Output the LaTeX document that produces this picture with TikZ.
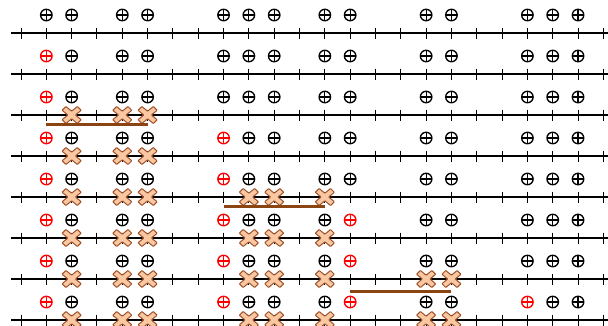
\documentclass[tikz,border=0pt]{standalone}
\usepackage{xcolor}
\usepackage{tikz}
\usetikzlibrary{calc}

\definecolor{crossfill}{HTML}{F9C8A2}
\definecolor{crossedge}{HTML}{9E5128}
\definecolor{barbrown}{HTML}{8B4513}

\begin{document}
\begin{tikzpicture}[x=1pt, y=-1pt,
    numline/.style={line width=1.6pt, black},
    tickmark/.style={line width=1pt, black},
    site/.style={
        circle, draw=#1, line width=1.35pt, minimum size=11.5pt, inner sep=0pt,
        path picture={\draw[#1, line width=1.2pt]
            (path picture bounding box.north) -- (path picture bounding box.south)
            (path picture bounding box.west) -- (path picture bounding box.east);}
    },
    site/.default=black,
    spanbar/.style={line width=3pt, barbrown},
    hit/.pic={
        \filldraw[fill=crossfill, draw=crossedge, line width=1pt, rounded corners=0.5pt]
            (0,3.8) -- (5.7,8.5) -- (9.5,4.7) -- (3.8,0) -- (9.5,-4.7) -- (5.7,-8.5)
            -- (0,-3.8) -- (-5.7,-8.5) -- (-9.5,-4.7) -- (-3.8,0) -- (-9.5,4.7)
            -- (-5.7,8.5) -- cycle;
    }
]
    \useasboundingbox (0,0) rectangle (608,325);
    \def\dx{25.32}

    \foreach \r in {1,...,8} {
        \pgfmathsetmacro\y{33+41*(\r-1)}
        % number line with ticks
        \draw[numline] (11,\y) -- (608,\y);
        \foreach \t in {0,...,23}
            \draw[tickmark] (21+\t*\dx,\y-5.5) -- (21+\t*\dx,\y+5.5);
        % sites: position / row it turns red / row it gets crossed
        \foreach \k/\red/\cut in {1/2/9, 2/9/3, 4/9/3, 5/9/3, 8/4/9, 9/9/5, 10/9/5,
                                  12/9/5, 13/6/9, 16/9/7, 17/9/7, 20/8/9, 21/9/9, 22/9/9} {
            \ifnum\r<\cut\relax\else
                \pic (x-\r-\k) at (21+\k*\dx,\y) {hit};
            \fi
            \ifnum\r<\red\relax\def\col{black}\else\def\col{red}\fi
            \node[site=\col] (s-\r-\k) at (21+\k*\dx,\y-18) {};
        }
    }

    % covered spans
    \draw[spanbar] ($(s-3-1)+(0,27)$) -- ($(s-3-5)+(0,27)$);
    \draw[spanbar] ($(s-5-8)+(0,27)$) -- ($(s-5-12)+(0,27)$);
    \draw[spanbar] ($(s-7-13)+(0,30)$) -- ($(s-7-17)+(0,30)$);
\end{tikzpicture}
\end{document}
